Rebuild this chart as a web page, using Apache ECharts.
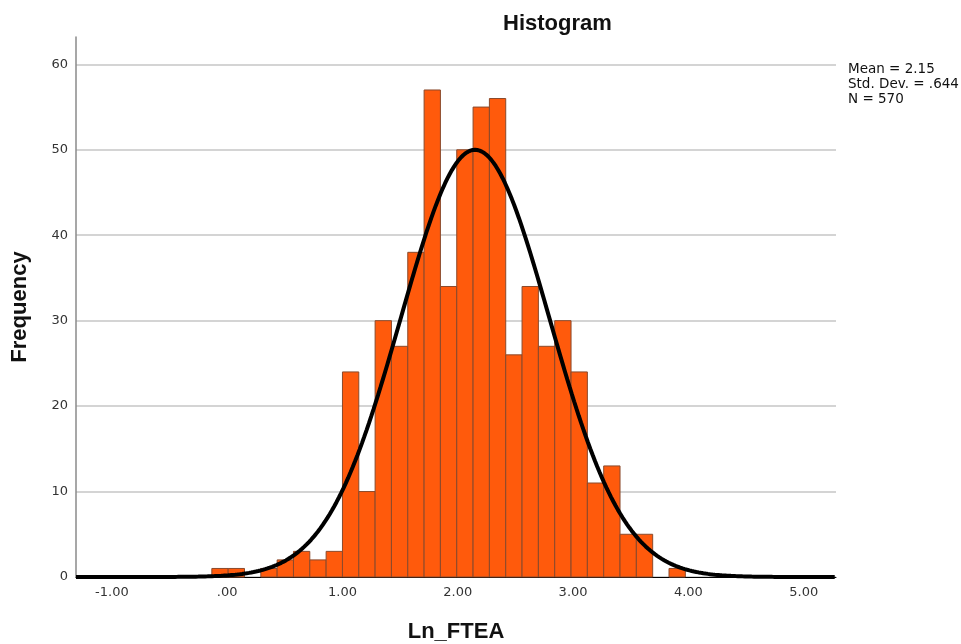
<!DOCTYPE html>
<html>
<head>
<meta charset="utf-8">
<script src="https://cdn.jsdelivr.net/npm/echarts@6/dist/echarts.min.js"></script>
<style>
  html, body { margin: 0; padding: 0; background: #fff; }
  #chart { width: 961px; height: 644px; }
</style>
</head>
<body>
<div id="chart"></div>
<script>
// histogram bins of Ln_FTEA
const binStart = -0.133;
const binWidth = 0.1416;
const counts = [1, 1, 0, 1, 2, 3, 2, 3, 24, 10, 30, 27, 38, 57, 34, 50, 55, 56, 26, 34, 27, 30, 24, 11, 13, 5, 5, 0, 1];
const xTicks = [-1, 0, 1, 2, 3, 4, 5];
// fitted normal, as printed on the chart
const mean = 2.15;
const stdDev = 0.644;
const total = 570;
const xMin = -1.311, xMax = 5.28;

const bars = counts.map(function (c, i) {
  return [binStart + i * binWidth, binStart + (i + 1) * binWidth, c];
}).filter(function (d) { return d[2] > 0; });

// normal curve scaled to the counts (N * bin width)
const curve = [];
for (let x = xMin; x <= xMax + 1e-9; x += 0.02) {
  const z = (x - mean) / stdDev;
  curve.push([x, total * binWidth * Math.exp(-0.5 * z * z) / (stdDev * Math.sqrt(2 * Math.PI))]);
}

const chart = echarts.init(document.getElementById("chart"));
chart.setOption({
  animation: false,
  title: {
    text: "Histogram",
    left: 498,
    top: 8,
    textStyle: { fontFamily: "Liberation Sans", fontWeight: "bold", fontSize: 22, color: "#111" }
  },
  grid: { left: 76, right: 125, top: 37, bottom: 67, outerBoundsMode: "none" },
  xAxis: {
    type: "value",
    min: xMin,
    max: xMax,
    name: "Ln_FTEA",
    nameLocation: "middle",
    nameGap: 44,
    nameTextStyle: { fontFamily: "Liberation Sans", fontWeight: "bold", fontSize: 22, color: "#111" },
    axisLine: { onZero: false, lineStyle: { color: "#000", width: 1 } },
    axisTick: { show: false },
    splitLine: { show: false },
    axisLabel: {
      customValues: xTicks,
      margin: 9,
      fontFamily: "DejaVu Sans",
      fontSize: 13,
      color: "#333",
      formatter: function (v) { return v === 0 ? ".00" : v.toFixed(2); }
    }
  },
  yAxis: {
    type: "value",
    min: 0,
    max: 63.2,
    interval: 10,
    name: "Frequency",
    nameLocation: "middle",
    nameGap: 45,
    nameTextStyle: { fontFamily: "Liberation Sans", fontWeight: "bold", fontSize: 22, color: "#111" },
    axisLine: { show: true, onZero: false, lineStyle: { color: "#8a8a8a", width: 1.5 } },
    axisTick: { show: false },
    splitLine: { showMaxLine: false, lineStyle: { color: "#d4d4d4", width: 2 } },
    axisLabel: { showMaxLabel: false, margin: 8, fontFamily: "DejaVu Sans", fontSize: 13, color: "#333" }
  },
  graphic: [
    {
      type: "text",
      left: 848,
      top: 62,
      style: {
        text: "Mean = 2.15\nStd. Dev. = .644\nN = 570",
        fontFamily: "DejaVu Sans",
        fontSize: 13.5,
        lineHeight: 15,
        fill: "#111"
      }
    }
  ],
  series: [
    {
      type: "custom",
      data: bars,
      encode: { x: [0, 1], y: 2 },
      renderItem: function (params, api) {
        const p0 = api.coord([api.value(0), api.value(2)]);
        const p1 = api.coord([api.value(1), 0]);
        return {
          type: "rect",
          shape: { x: p0[0], y: p0[1], width: p1[0] - p0[0], height: p1[1] - p0[1] },
          style: { fill: "#ff5a0c", stroke: "#8a4a2c", lineWidth: 1 }
        };
      },
      z: 2
    },
    {
      type: "line",
      data: curve,
      showSymbol: false,
      smooth: false,
      lineStyle: { color: "#000", width: 4 },
      z: 3
    }
  ]
});
</script>
</body>
</html>
